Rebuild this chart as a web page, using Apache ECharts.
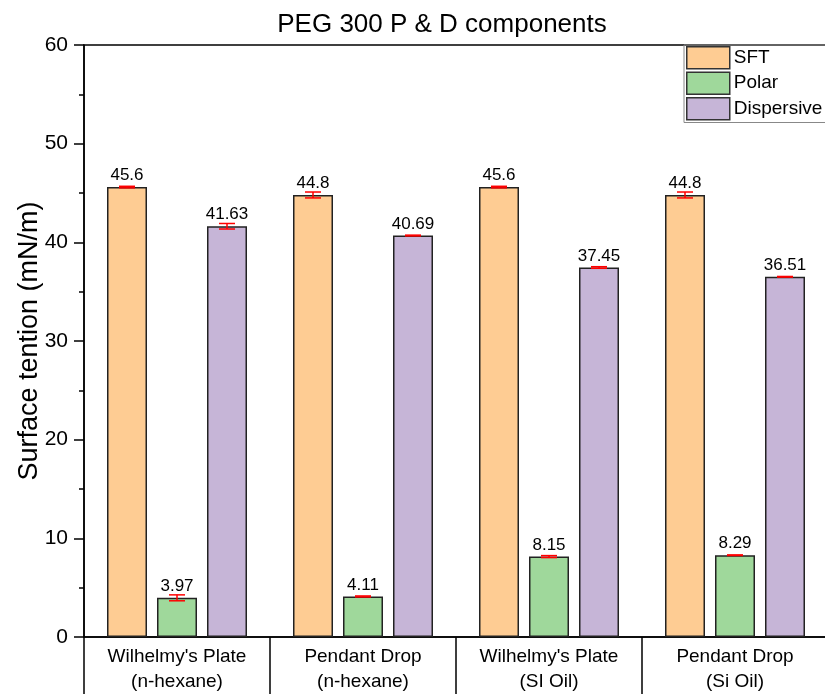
<!DOCTYPE html>
<html><head><meta charset="utf-8">
<script src="https://cdn.jsdelivr.net/npm/echarts@6/dist/echarts.min.js"></script>
<style>html,body{margin:0;padding:0;background:#fff;overflow:hidden}#c{width:836px;height:694px}</style>
</head><body><div id="c"></div>
<script>
const categories = ["Wilhelmy's Plate\n(n-hexane)", "Pendant Drop\n(n-hexane)", "Wilhelmy's Plate\n(SI Oil)", "Pendant Drop\n(Si Oil)"];
const seriesNames = ["SFT", "Polar", "Dispersive"];
const sftValues = [45.6, 44.8, 45.6, 44.8];
const polarValues = [3.97, 4.11, 8.15, 8.29];
const dispValues = [41.63, 40.69, 37.45, 36.51];
const sftErr = [0.08, 0.3, 0.08, 0.3];
const polarErr = [0.3, 0.05, 0.1, 0.03];
const dispErr = [0.28, 0.04, 0.08, 0.03];
const yTicks = [0, 10, 20, 30, 40, 50, 60];

const colors = ['#FECC93', '#9FD89B', '#C6B5D7'];
const values = [sftValues, polarValues, dispValues];
const errs = [sftErr, polarErr, dispErr];
const barWidth = 40, barGapPx = 10;
const FONT = 'Liberation Sans, Arial, sans-serif';

const chart = echarts.init(document.getElementById('c'));
const series = [];
values.forEach((vals, i) => {
  series.push({
    name: seriesNames[i], type: 'bar', data: vals, barWidth: barWidth, barGap: (barGapPx / barWidth * 100) + '%',
    itemStyle: { color: colors[i], borderColor: '#222', borderWidth: 1.5 },
    label: { show: true, position: 'top', distance: 3, color: '#000', fontSize: 17, fontFamily: FONT, formatter: p => String(p.value) },
    z: 2
  });
});
values.forEach((vals, i) => {
  const offset = (barWidth + barGapPx) * (i - 1);
  series.push({
    type: 'custom', name: 'err' + i, z: 5, silent: true,
    data: vals.map((v, k) => [k, v, errs[i][k]]),
    encode: { x: 0, y: 1 },
    renderItem: function (params, api) {
      const k = api.value(0), v = api.value(1), e = api.value(2);
      const hi = api.coord([k, v + e]), lo = api.coord([k, v - e]);
      const x = hi[0] + offset, hw = 8;
      const st = { stroke: '#FF0000', lineWidth: 1.5 };
      return { type: 'group', children: [
        { type: 'line', shape: { x1: x, y1: hi[1], x2: x, y2: lo[1] }, style: st },
        { type: 'line', shape: { x1: x - hw, y1: hi[1], x2: x + hw, y2: hi[1] }, style: st },
        { type: 'line', shape: { x1: x - hw, y1: lo[1], x2: x + hw, y2: lo[1] }, style: st }
      ]};
    }
  });
});

chart.setOption({
  animation: false,
  textStyle: { fontFamily: FONT },
  title: { text: 'PEG 300 P & D components', left: 437, textAlign: 'center', top: 7, textStyle: { fontSize: 26, fontWeight: 'normal', color: '#000', fontFamily: FONT } },
  grid: { left: 84, right: 8, top: 45, bottom: 56, show: true, borderColor: '#000', borderWidth: 1.5, backgroundColor: 'transparent' },
  legend: {
    data: seriesNames, orient: 'vertical', left: 684, top: 45, icon: 'rect', itemWidth: 43, itemHeight: 22, itemGap: 2,
    padding: [1, 20, 2, 2], borderColor: '#888', borderWidth: 1, borderRadius: 0,
    textStyle: { fontSize: 19, color: '#000', fontFamily: FONT, padding: [0, 0, 0, -1] },
    itemStyle: { borderColor: '#333', borderWidth: 1.5 }
  },
  xAxis: {
    type: 'category', data: categories,
    axisLine: { lineStyle: { color: '#000', width: 1.5 } },
    axisTick: { show: true, length: 60, alignWithLabel: false, lineStyle: { color: '#000', width: 1.5 } },
    axisLabel: { fontSize: 19, color: '#000', lineHeight: 25, margin: 7, fontFamily: FONT }
  },
  yAxis: {
    type: 'value', min: yTicks[0], max: yTicks[yTicks.length - 1], interval: 10,
    name: 'Surface tention (mN/m)', nameLocation: 'middle', nameGap: 41, nameMoveOverlap: false,
    nameTextStyle: { fontSize: 27, color: '#000', fontFamily: FONT },
    axisLine: { show: true, lineStyle: { color: '#000', width: 1.5 } },
    axisTick: { show: true, inside: false, length: 10, lineStyle: { color: '#000', width: 1.5 } },
    minorTick: { show: true, splitNumber: 2, length: 5, lineStyle: { color: '#000', width: 1.5 } },
    splitLine: { show: false },
    axisLabel: { fontSize: 21, color: '#000', margin: 16, fontFamily: FONT }
  },
  series: series
});
</script></body></html>
